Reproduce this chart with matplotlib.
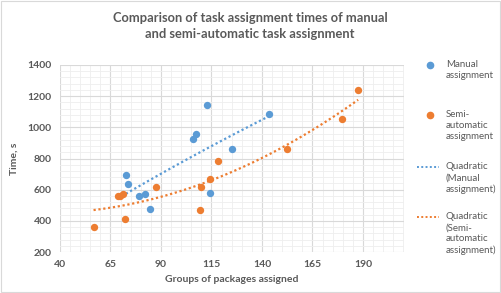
import numpy as np
import matplotlib
matplotlib.use("Agg")
import matplotlib.pyplot as plt
from matplotlib.lines import Line2D
from matplotlib.patches import Rectangle
from matplotlib.ticker import FixedLocator, MultipleLocator

plt.rcParams['font.family'] = ['Lato', 'DejaVu Sans']

manual_x = [72.6, 73.8, 78.9, 81.9, 84.7, 105.9, 107.2, 113.0, 114.2, 125.1, 143.4]
manual_y = [693, 639, 560, 573, 474, 924, 956, 1143, 577, 862, 1083]
semi_x = [56.6, 68.5, 69.8, 71.0, 72.0, 87.5, 109.2, 110.0, 114.2, 118.1, 152.3, 179.7, 187.6]
semi_y = [363, 558, 562, 569, 412, 620, 468, 616, 669, 787, 858, 1053, 1237]
x_ticks = [40, 65, 90, 115, 140, 165, 190]

title = "Comparison of task assignment times of manual\nand semi-automatic task assignment"
xlabel = "Groups of packages assigned"
ylabel = "Time, s"
legend_labels = ["Manual\nassignment", "Semi-\nautomatic\nassignment",
                 "Quadratic\n(Manual\nassignment)", "Quadratic\n(Semi-\nautomatic\nassignment)"]

blue = "#5B9BD5"
orange = "#ED7D31"
gray = "#595959"

fig = plt.figure(figsize=(5.01, 2.93), dpi=100)
ax = fig.add_axes([60/501, 1-252/293, (404-60)/501, (252-65)/293])

ax.set_xlim(40, 210.3)
ax.set_ylim(200, 1400)
ax.xaxis.set_major_locator(FixedLocator(x_ticks))
ax.xaxis.set_minor_locator(FixedLocator(np.arange(40, 211, 5)))
ax.yaxis.set_major_locator(MultipleLocator(200))
ax.yaxis.set_minor_locator(MultipleLocator(40))
ax.grid(which='major', color='#d9d9d9', linewidth=0.8)
ax.grid(which='minor', color='#eeeeee', linewidth=0.6)
ax.set_axisbelow(True)
for s in ax.spines.values():
    s.set_visible(False)
ax.tick_params(which='both', length=0, colors=gray, labelsize=7.5)
for lab in ax.get_xticklabels() + ax.get_yticklabels():
    lab.set_fontweight('bold')
ax.tick_params(axis='x', pad=6)
ax.tick_params(axis='y', pad=6)

ax.scatter(manual_x, manual_y, s=28, color=blue, zorder=3, linewidths=0)
ax.scatter(semi_x, semi_y, s=28, color=orange, zorder=3, linewidths=0)

for xs, ys, c in [(manual_x, manual_y, blue), (semi_x, semi_y, orange)]:
    p = np.polyfit(xs, ys, 2)
    xx = np.linspace(min(xs), max(xs), 100)
    ax.plot(xx, np.polyval(p, xx), linestyle=(0, (1, 1.2)), color=c, linewidth=1.6, zorder=2)

fig.text(250/501, 1-26/293, title, ha='center', va='center', fontsize=9.3, fontweight='bold',
         color=gray, linespacing=1.5)
ax.set_xlabel(xlabel, fontsize=7.5, fontweight='bold', color=gray, labelpad=4)
ax.set_ylabel(ylabel, fontsize=7.5, fontweight='bold', color=gray, labelpad=6)

# legend
ys_leg = [65, 115, 167, 217]
for i, (lab, yl) in enumerate(zip(legend_labels, ys_leg)):
    yf = 1 - yl/293
    if i == 0:
        fig.add_artist(Line2D([430/501], [yf], marker='o', color=blue, markersize=4.5, linestyle='none'))
    elif i == 1:
        fig.add_artist(Line2D([430/501], [yf], marker='o', color=orange, markersize=4.5, linestyle='none'))
    else:
        c = blue if i == 2 else orange
        fig.add_artist(Line2D([417/501, 439/501], [yf, yf], color=c, linewidth=1.4, linestyle=(0, (1, 1.2))))
    fig.text(446/501, yf + 5/293, lab, ha='left', va='top', fontsize=7, color=gray, linespacing=1.3)

fig.add_artist(Rectangle((0.002, 0.003), 0.996, 0.994, transform=fig.transFigure, fill=False,
                         edgecolor='#d9d9d9', linewidth=0.8))

fig.savefig("out.png", dpi=100, facecolor='white')
